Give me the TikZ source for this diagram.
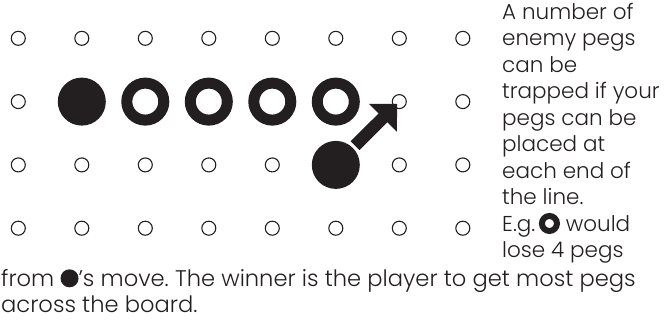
\documentclass[tikz,border=0pt]{standalone}
\usepackage{fontspec}
\setmainfont{Poppins}[UprightFont=* Light]
\usepackage{tikz}
\usetikzlibrary{arrows.meta,positioning}
\frenchspacing

\definecolor{pegblack}{RGB}{35,31,32}

% small pegs inside the text
\newcommand{\dotpeg}{\tikz[baseline=0pt]\fill[pegblack] (0,8pt) circle (9pt);}
\newcommand{\ringmark}{\tikz[baseline=0pt]\draw[pegblack, line width=6pt] (0,8pt) circle (7.5pt);}

\begin{document}
\begin{tikzpicture}[x=1pt, y=-1pt,
    hole/.style={circle, draw=pegblack, line width=1.1pt, minimum size=14pt, inner sep=0pt},
    ringpeg/.style={circle, draw=pegblack, line width=11pt, fill=white, minimum size=37pt, inner sep=0pt},
    blackpeg/.style={circle, fill=pegblack, minimum size=48pt, inner sep=0pt},
    move/.style={pegblack, line width=12.5pt, -{Triangle[length=20pt, width=38pt]}, shorten <=3pt, shorten >=3pt},
    rules/.style={inner sep=0pt, align=left, text=pegblack, font=\fontsize{21.5}{26.5}\selectfont}]

  \useasboundingbox (0,0) rectangle (668,322);

  % Board
  \foreach \c in {1,...,8}
    \foreach \r in {1,...,4}
      \node[hole] (h\c\r) at ({18.3+63.5*(\c-1)}, {38.3+63.3*(\r-1)}) {};

  % Line of enemy pegs
  \node[blackpeg] (anchorpeg) at (h22) {};
  \foreach \c in {3,...,6}
    \node[ringpeg] (ring\c) at (h\c2) {};

  % The move
  \node[blackpeg] (mover) at (h63) {};
  \draw[move] (mover) -- (h72.center);

  % Rules text
  \node[rules, anchor=north west] (rulestext) at (502,3) {A number of\\ enemy pegs\\ can be\\ trapped if your\\ pegs can be\\ placed at\\ each end of\\ the line.\\ E.g.\,\ringmark{} would\\ lose 4 pegs};
  \node[rules, anchor=north west, font=\fontsize{22.6}{26.5}\selectfont] (rulesend) at (1,269) {from \dotpeg’s move. The winner is the player to get most pegs\\ across the board.};

\end{tikzpicture}
\end{document}
